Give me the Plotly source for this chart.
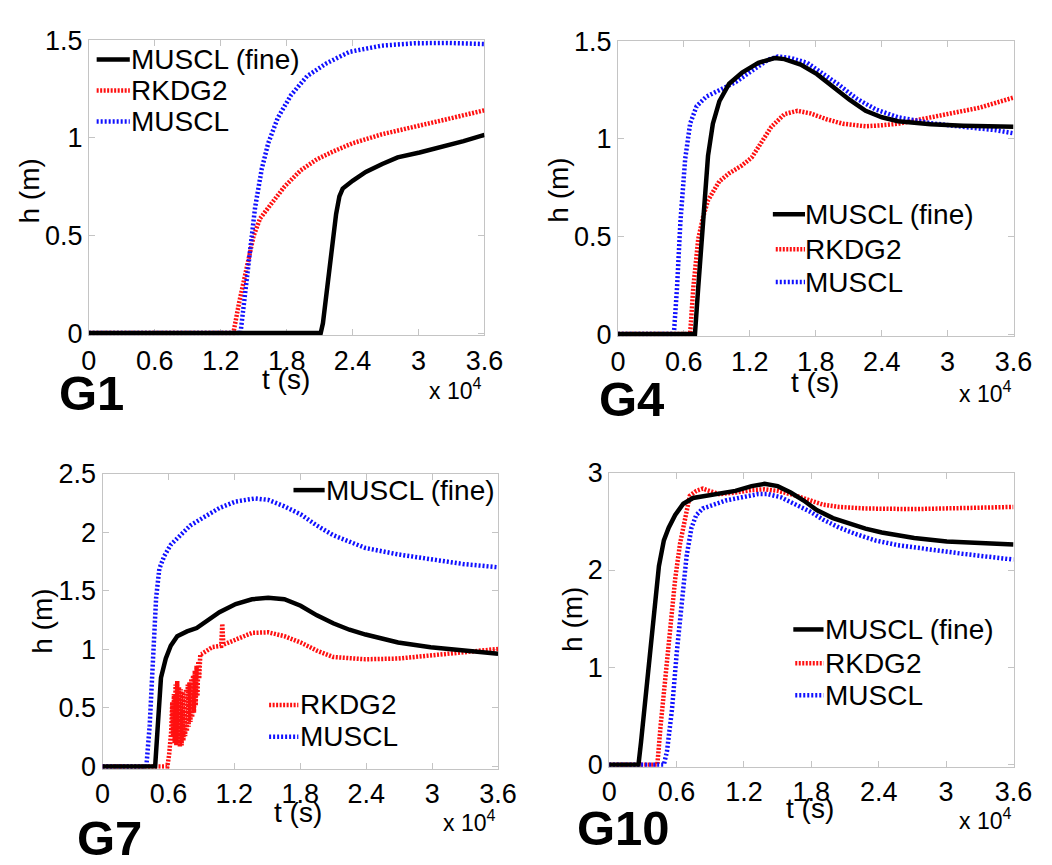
import plotly.graph_objects as go

FONT = "Liberation Sans, Arial, sans-serif"
W, H = 1052, 865

# Time is stored in units of 10^4 s (see the "x 10^4" axis multiplier)
x_tickvals = [0, 0.6, 1.2, 1.8, 2.4, 3.0, 3.6]
x_ticktext = ["0", "0.6", "1.2", "1.8", "2.4", "3", "3.6"]

series_names = ["MUSCL (fine)", "RKDG2", "MUSCL"]

# ---------------- gauge G1 ----------------
g1_fine_t = [0, 2.11, 2.13, 2.15, 2.19, 2.25, 2.28, 2.31, 2.40, 2.52, 2.67, 2.81, 3.01, 3.20, 3.41, 3.60]
g1_fine_h = [0, 0, 0.05, 0.15, 0.33, 0.61, 0.70, 0.74, 0.78, 0.825, 0.866, 0.90, 0.925, 0.95, 0.983, 1.015]
g1_rkdg_t = [0, 1.315, 1.366, 1.425, 1.499, 1.558, 1.632, 1.78, 1.927, 2.075, 2.223, 2.40, 2.666, 2.962, 3.257, 3.60]
g1_rkdg_h = [0, 0, 0.152, 0.316, 0.497, 0.587, 0.644, 0.75, 0.833, 0.89, 0.93, 0.972, 1.018, 1.054, 1.095, 1.141]
g1_muscl_t = [0, 1.38, 1.425, 1.469, 1.513, 1.573, 1.632, 1.72, 1.839, 1.986, 2.164, 2.371, 2.666, 2.962, 3.257, 3.60]
g1_muscl_h = [0, 0, 0.218, 0.447, 0.644, 0.84, 0.972, 1.103, 1.218, 1.316, 1.382, 1.44, 1.472, 1.484, 1.486, 1.48]

# ---------------- gauge G4 ----------------
g4_fine_t = [0, 0.701, 0.731, 0.760, 0.790, 0.820, 0.864, 0.923, 1.012, 1.130, 1.278, 1.426, 1.515, 1.663,
             1.811, 1.959, 2.107, 2.254, 2.402, 2.550, 2.846, 3.142, 3.60]
g4_fine_h = [0, 0, 0.24, 0.487, 0.684, 0.913, 1.077, 1.192, 1.282, 1.339, 1.389, 1.413, 1.408, 1.38,
             1.331, 1.266, 1.20, 1.143, 1.11, 1.09, 1.074, 1.067, 1.061]
g4_rkdg_t = [0, 0.657, 0.686, 0.731, 0.775, 0.820, 0.879, 0.923, 1.012, 1.130, 1.219, 1.308, 1.396, 1.515,
             1.633, 1.751, 1.899, 2.047, 2.254, 2.402, 2.550, 2.698, 2.876, 3.053, 3.290, 3.60]
g4_rkdg_h = [0, 0, 0.24, 0.487, 0.60, 0.684, 0.741, 0.782, 0.823, 0.864, 0.905, 0.979, 1.061, 1.126,
             1.143, 1.13, 1.10, 1.077, 1.064, 1.069, 1.077, 1.093, 1.113, 1.134, 1.159, 1.211]
g4_muscl_t = [0, 0.509, 0.538, 0.568, 0.612, 0.657, 0.716, 0.805, 0.923, 1.071, 1.219, 1.367, 1.456, 1.574,
              1.722, 1.870, 2.018, 2.166, 2.343, 2.550, 2.846, 3.142, 3.438, 3.60]
g4_muscl_h = [0, 0, 0.24, 0.569, 0.897, 1.077, 1.167, 1.216, 1.249, 1.29, 1.348, 1.405, 1.421, 1.413,
              1.389, 1.331, 1.274, 1.208, 1.151, 1.11, 1.08, 1.061, 1.044, 1.028]

# ---------------- gauge G7 ----------------
g7_fine_t = [0, 0.479, 0.503, 0.532, 0.576, 0.621, 0.680, 0.769, 0.857, 0.946, 1.064, 1.212, 1.360, 1.508,
             1.655, 1.803, 1.951, 2.099, 2.247, 2.394, 2.690, 2.986, 3.281, 3.60]
g7_fine_h = [0, 0, 0.347, 0.758, 0.922, 1.031, 1.113, 1.154, 1.182, 1.236, 1.318, 1.387, 1.428, 1.441,
             1.428, 1.373, 1.291, 1.223, 1.168, 1.127, 1.059, 1.018, 0.990, 0.963]
g7_rkdg_t = [0, 0.590, 0.606, 0.625, 0.635, 0.642, 0.650, 0.657, 0.665, 0.672, 0.680, 0.688, 0.696, 0.704,
             0.712, 0.720, 0.728, 0.736, 0.744, 0.752, 0.760, 0.768, 0.776, 0.784, 0.792, 0.800, 0.808,
             0.816, 0.824, 0.832, 0.840, 0.848, 0.856, 0.864, 0.872, 0.880, 0.890, 0.900, 0.950, 1.000,
             1.080, 1.090, 1.100, 1.150, 1.212, 1.360, 1.508, 1.655, 1.803, 1.951, 2.099, 2.394, 2.690,
             2.986, 3.281, 3.60]
g7_rkdg_h = [0, 0, 0.10, 0.30, 0.55, 0.25, 0.62, 0.20, 0.70, 0.18, 0.73, 0.20, 0.68, 0.17,
             0.66, 0.18, 0.64, 0.22, 0.62, 0.26, 0.66, 0.30, 0.70, 0.34, 0.72, 0.38, 0.75,
             0.42, 0.78, 0.46, 0.82, 0.52, 0.86, 0.60, 0.90, 0.75, 0.96, 0.96, 0.99, 1.02,
             1.03, 1.22, 1.04, 1.06, 1.086, 1.141, 1.146, 1.113, 1.059, 0.990, 0.935, 0.916, 0.922,
             0.949, 0.977, 1.004]
g7_muscl_t = [0, 0.399, 0.429, 0.458, 0.488, 0.517, 0.562, 0.621, 0.709, 0.798, 0.916, 1.064, 1.212, 1.389,
              1.508, 1.655, 1.803, 1.951, 2.099, 2.247, 2.394, 2.690, 2.986, 3.281, 3.60]
g7_muscl_h = [0, 0, 0.347, 0.894, 1.441, 1.688, 1.797, 1.893, 1.975, 2.057, 2.125, 2.207, 2.262, 2.289,
              2.276, 2.221, 2.153, 2.057, 1.975, 1.92, 1.865, 1.811, 1.77, 1.729, 1.701]

# ---------------- gauge G10 ----------------
g10_fine_t = [0, 0.261, 0.284, 0.313, 0.356, 0.400, 0.443, 0.487, 0.530, 0.588, 0.660, 0.747, 0.863, 0.979,
              1.124, 1.268, 1.384, 1.500, 1.616, 1.732, 1.848, 1.992, 2.137, 2.282, 2.427, 2.716, 3.006,
              3.296, 3.60]
g10_fine_h = [0, 0, 0.236, 0.564, 1.057, 1.615, 2.041, 2.304, 2.435, 2.566, 2.681, 2.74, 2.763, 2.78,
              2.813, 2.862, 2.885, 2.862, 2.796, 2.714, 2.616, 2.534, 2.475, 2.425, 2.386, 2.33, 2.294,
              2.278, 2.261]
g10_rkdg_t = [0, 0.429, 0.458, 0.501, 0.544, 0.588, 0.631, 0.675, 0.718, 0.776, 0.834, 0.892, 0.979, 1.124,
              1.268, 1.384, 1.500, 1.645, 1.790, 1.906, 2.050, 2.282, 2.716, 3.151, 3.60]
g10_rkdg_h = [0, 0, 0.40, 0.893, 1.385, 1.91, 2.271, 2.534, 2.763, 2.813, 2.836, 2.813, 2.78, 2.796,
              2.822, 2.829, 2.813, 2.77, 2.714, 2.671, 2.648, 2.632, 2.626, 2.632, 2.648]
g10_muscl_t = [0, 0.487, 0.515, 0.559, 0.602, 0.646, 0.689, 0.733, 0.776, 0.834, 0.921, 1.037, 1.182, 1.326,
               1.413, 1.529, 1.645, 1.790, 1.906, 2.050, 2.195, 2.369, 2.572, 2.861, 3.151, 3.60]
g10_muscl_h = [0, 0, 0.138, 0.564, 1.155, 1.68, 2.14, 2.435, 2.566, 2.632, 2.671, 2.714, 2.747, 2.78,
               2.78, 2.747, 2.681, 2.599, 2.517, 2.435, 2.37, 2.304, 2.255, 2.205, 2.166, 2.107]

# line styles: MUSCL (fine), RKDG2, MUSCL
STYLES = {
    "fine": dict(color="#000000", width=4.5, dash="solid"),
    "rkdg": dict(color="#ff1010", width=4.5, dash="2px,1.5px"),
    "muscl": dict(color="#1010ff", width=4.5, dash="2px,2px"),
}


def px(x):
    return x / W


def py(y):
    return 1 - y / H


panels = [
    dict(name="G1", box=(83, 489, 26, 331), ymax=1.5, yticks=[0, 0.5, 1, 1.5], yticktext=["0", "0.5", "1", "1.5"],
         data=dict(rkdg=(g1_rkdg_t, g1_rkdg_h), muscl=(g1_muscl_t, g1_muscl_h), fine=(g1_fine_t, g1_fine_h)),
         tlabel=(285, 377), hlabel=(22, 182), mult=(487, 386), tag=(50, 391),
         legend=[("fine", 91, 125, 124, 46), ("rkdg", 91, 125, 124, 78), ("muscl", 91, 125, 124, 110)]),
    dict(name="G4", box=(626, 1032, 27, 332), ymax=1.5, yticks=[0, 0.5, 1, 1.5], yticktext=["0", "0.5", "1", "1.5"],
         data=dict(rkdg=(g4_rkdg_t, g4_rkdg_h), muscl=(g4_muscl_t, g4_muscl_h), fine=(g4_fine_t, g4_fine_h)),
         tlabel=(828, 380), hlabel=(565, 181), mult=(1031, 390), tag=(605, 397),
         legend=[("fine", 785, 818, 816, 206), ("rkdg", 788, 818, 816, 242), ("muscl", 788, 818, 816, 276)]),
    dict(name="G7", box=(97, 503, 474, 779), ymax=2.5, yticks=[0, 0.5, 1, 1.5, 2, 2.5],
         yticktext=["0", "0.5", "1", "1.5", "2", "2.5"],
         data=dict(rkdg=(g7_rkdg_t, g7_rkdg_h), muscl=(g7_muscl_t, g7_muscl_h), fine=(g7_fine_t, g7_fine_h)),
         tlabel=(298, 824), hlabel=(36, 627), mult=(502, 833), tag=(69, 851),
         legend=[("fine", 293, 325, 324, 491), ("rkdg", 268, 298, 298, 713), ("muscl", 268, 298, 298, 746)]),
    dict(name="G10", box=(617, 1032, 473, 777), ymax=3, yticks=[0, 1, 2, 3], yticktext=["0", "1", "2", "3"],
         data=dict(rkdg=(g10_rkdg_t, g10_rkdg_h), muscl=(g10_muscl_t, g10_muscl_h), fine=(g10_fine_t, g10_fine_h)),
         tlabel=(823, 820), hlabel=(580, 625), mult=(1031, 831), tag=(582, 840),
         legend=[("fine", 806, 837, 836, 635), ("rkdg", 808, 837, 836, 670), ("muscl", 808, 837, 836, 703)]),
]

label_of = {"fine": series_names[0], "rkdg": series_names[1], "muscl": series_names[2]}

fig = go.Figure()
annotations = []
shapes = []
layout_axes = {}

for i, p in enumerate(panels, start=1):
    xa = "x" if i == 1 else f"x{i}"
    ya = "y" if i == 1 else f"y{i}"
    x0, x1, y0, y1 = p["box"]

    # traces: RKDG2 first, MUSCL over it, fine-grid MUSCL on top
    for key in ["rkdg", "muscl", "fine"]:
        t, h = p["data"][key]
        fig.add_trace(go.Scatter(
            x=t, y=h, mode="lines", name=label_of[key], showlegend=False,
            line=STYLES[key], xaxis=xa, yaxis=ya, hoverinfo="skip",
        ))

    axis_common = dict(
        showline=True, linecolor="#c4c4c4", linewidth=1, mirror="ticks",
        ticks="inside", ticklen=6, tickcolor="#c4c4c4", tickwidth=1,
        showgrid=False, zeroline=False, layer="below traces",
        tickfont=dict(family=FONT, size=27, color="#000000"),
    )
    ypad = p["ymax"] * 0.0075
    layout_axes["xaxis" if i == 1 else f"xaxis{i}"] = dict(
        axis_common, domain=[px(x0), px(x1)], range=[0, 3.6], anchor=ya,
        tickmode="array", tickvals=x_tickvals, ticktext=x_ticktext, ticklabelstandoff=1,
    )
    layout_axes["yaxis" if i == 1 else f"yaxis{i}"] = dict(
        axis_common, domain=[py(y1), py(y0)], range=[-ypad, p["ymax"]], anchor=xa,
        tickmode="array", tickvals=p["yticks"], ticktext=p["yticktext"], ticklabelstandoff=0,
    )

    # axis titles, multiplier and gauge tag
    annotations.append(dict(text="t (s)", x=px(p["tlabel"][0]), y=py(p["tlabel"][1]), xref="paper", yref="paper",
                            showarrow=False, xanchor="center", yanchor="middle",
                            font=dict(family=FONT, size=28, color="#000000")))
    annotations.append(dict(text="h (m)", x=px(p["hlabel"][0]), y=py(p["hlabel"][1]), xref="paper", yref="paper",
                            showarrow=False, xanchor="center", yanchor="middle", textangle=-90,
                            font=dict(family=FONT, size=28, color="#000000")))
    annotations.append(dict(text="x 10<sup>4</sup>", x=px(p["mult"][0]), y=py(p["mult"][1]), xref="paper",
                            yref="paper", showarrow=False, xanchor="right", yanchor="middle",
                            font=dict(family=FONT, size=23, color="#000000")))
    annotations.append(dict(text=f"<b>{p['name']}</b>", x=px(p["tag"][0]), y=py(p["tag"][1]), xref="paper",
                            yref="paper", showarrow=False, xanchor="left", yanchor="middle",
                            font=dict(family=FONT, size=49, color="#000000")))

    # legend entries
    for key, lx0, lx1, tx, ly in p["legend"]:
        st = STYLES[key]
        shapes.append(dict(type="line", xref="paper", yref="paper", x0=px(lx0), x1=px(lx1), y0=py(ly), y1=py(ly),
                           line=dict(color=st["color"], width=st["width"], dash=st["dash"])))
        annotations.append(dict(text=label_of[key], x=px(tx), y=py(ly), xref="paper", yref="paper",
                                showarrow=False, xanchor="left", yanchor="middle",
                                font=dict(family=FONT, size=28, color="#000000")))

fig.update_layout(
    width=W, height=H,
    margin=dict(l=0, r=0, t=0, b=0),
    paper_bgcolor="#ffffff", plot_bgcolor="#ffffff",
    showlegend=False,
    annotations=annotations, shapes=shapes,
    **layout_axes,
)

fig.write_html("out.html")
